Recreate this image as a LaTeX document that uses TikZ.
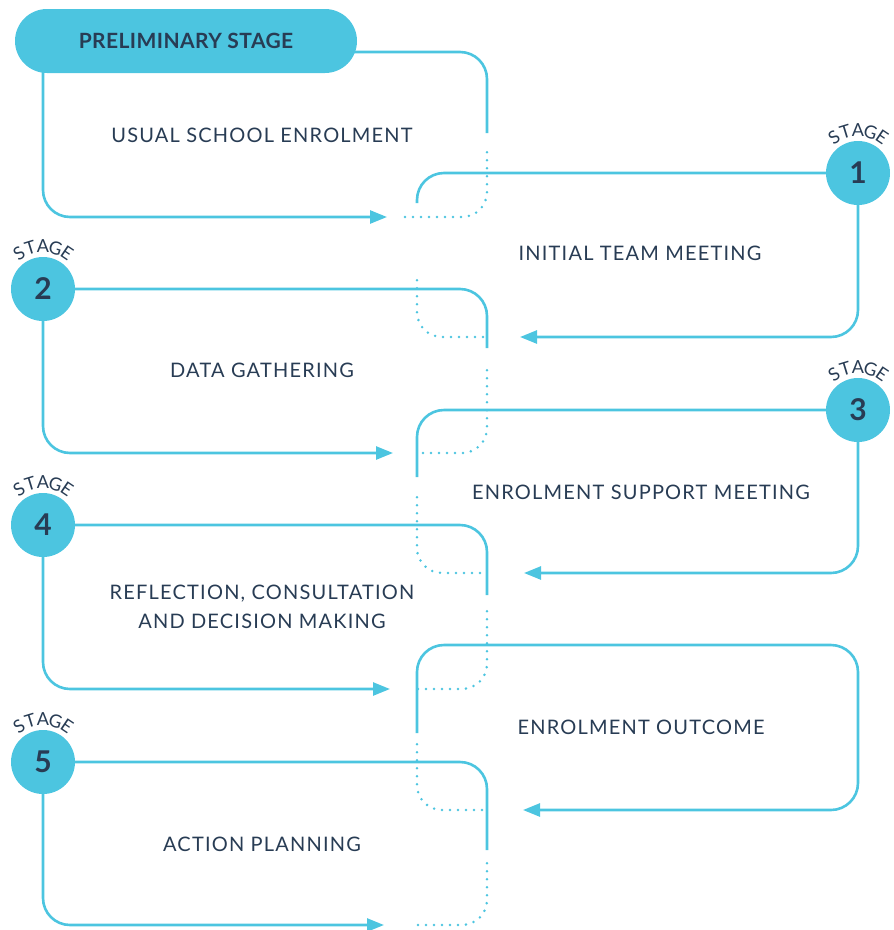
\documentclass[tikz,border=0pt]{standalone}
\usepackage{fontspec}
\setmainfont{Lato}
\definecolor{loopcyan}{RGB}{76, 197, 224}
\definecolor{inkblue}{RGB}{40, 60, 84}
\usetikzlibrary{arrows.meta, backgrounds}

\begin{document}
\begin{tikzpicture}[x=1pt, y=-1pt,
    flow/.style={draw=loopcyan, line width=2.6pt, rounded corners=27pt},
    flowarrow/.style={flow, -{Triangle[length=17pt, width=13pt]}},
    dots/.style={draw=loopcyan, line width=2.8pt, line cap=round, dash pattern=on 0pt off 8pt, rounded corners=25pt},
    stagedot/.style={circle, fill=loopcyan, minimum size=64pt, inner sep=0pt, text=inkblue, font=\fontsize{30}{30}\selectfont\bfseries},
    looplabel/.style={text=inkblue, align=center, font=\fontsize{20}{29}\selectfont\addfontfeature{LetterSpace=6}}]
  \useasboundingbox (0,0) rectangle (894,930);

  % Preliminary stage pill
  \node[fill=loopcyan, rounded corners=32pt, minimum width=342pt, minimum height=64pt, text=inkblue, font=\fontsize{21}{21}\selectfont\bfseries\addfontfeature{LetterSpace=2}] (pre) at (186,41) {PRELIMINARY STAGE};

  % Stage circles with curved STAGE above
  \foreach \n/\x/\y in {1/858/173, 2/43/289, 3/858/410, 4/43/525, 5/43/762} {
    \node[stagedot] (s\n) at (\x,\y) {\n};
    \foreach \c/\a in {S/124, T/107, A/90, G/73, E/56} {
      \node[rotate=\a-90, text=inkblue, inner sep=0pt, font=\fontsize{18}{18}\selectfont] at ([shift={(\a:43pt)}]s\n.center) {\c};
    }
  }

  % Loop labels
  \node[looplabel] (t0) at (262,135) {USUAL SCHOOL ENROLMENT};
  \node[looplabel] (t1) at (640,253) {INITIAL TEAM MEETING};
  \node[looplabel] (t2) at (262,370) {DATA GATHERING};
  \node[looplabel] (t3) at (641,492) {ENROLMENT SUPPORT MEETING};
  \node[looplabel] (t4) at (262,607) {REFLECTION, CONSULTATION\\AND DECISION MAKING};
  \node[looplabel] (t5) at (641,727) {ENROLMENT OUTCOME};
  \node[looplabel] (t6) at (262,844) {ACTION PLANNING};

  \begin{scope}[on background layer]
    % Preliminary loop
    \draw[flow] (300,52) -- (487,52) -- (487,133);
    \draw[flowarrow] (43,60) -- (43,217) -- (387,217);
    \draw[dots] (405,217) -- (487,217) -- (487,146);

    % Stage 1 loop
    \draw[flow] (s1.west) -- (417,173) -- (417,203);
    \draw[flowarrow] (s1.south) -- (858,337) -- (520,337);
    \draw[dots] (483,337) -- (417,337) -- (417,273);

    % Stage 2 loop
    \draw[flow] (s2.east) -- (487,289) -- (487,348);
    \draw[flowarrow] (s2.south) -- (43,453) -- (393,453);
    \draw[dots] (423,453) -- (487,453) -- (487,363);

    % Stage 3 loop
    \draw[flow] (s3.west) -- (417,410) -- (417,477);
    \draw[flowarrow] (s3.south) -- (858,573) -- (524,573);
    \draw[dots] (480,573) -- (417,573) -- (417,490);

    % Stage 4 loop
    \draw[flow] (s4.east) -- (487,525) -- (487,595);
    \draw[flowarrow] (s4.south) -- (43,689) -- (390,689);
    \draw[dots] (418,689) -- (487,689) -- (487,608);

    % Outcome loop
    \draw[flowarrow] (417,733) -- (417,645) -- (858,645) -- (858,810) -- (523,810);
    \draw[dots] (482,810) -- (417,810) -- (417,743);

    % Stage 5 loop
    \draw[flow] (s5.east) -- (487,762) -- (487,850);
    \draw[flowarrow] (s5.south) -- (43,925) -- (384,925);
    \draw[dots] (418,925) -- (487,925) -- (487,860);
  \end{scope}
\end{tikzpicture}
\end{document}
